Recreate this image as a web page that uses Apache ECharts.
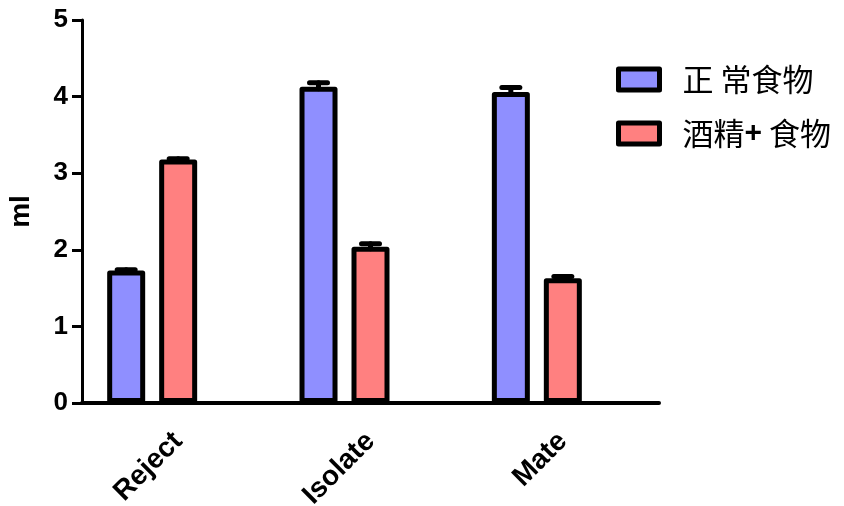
<!DOCTYPE html>
<html>
<head>
<meta charset="utf-8">
<script src="https://cdn.jsdelivr.net/npm/echarts@6/dist/echarts.min.js"></script>
<style>
  html, body { margin: 0; padding: 0; background: #fff; }
  #chart { width: 844px; height: 506px; }
</style>
</head>
<body>
<div id="chart"></div>
<script>
const categories = ['Reject', 'Isolate', 'Mate'];
const normalName = '正 常食物';
const alcoholName = '酒精+ 食物';
const normalMean = [1.73, 4.13, 4.06];
const normalErr = [0.01, 0.05, 0.06];
const alcoholMean = [3.18, 2.04, 1.63];
const alcoholErr = [0.01, 0.04, 0.02];
const yTicks = [0, 1, 2, 3, 4, 5];

const blue = '#8f8fff';
const red = '#ff8080';
const barWidth = 38;
const barGapPx = 14;
const latin = '"Liberation Sans", Arial, sans-serif';

const chart = echarts.init(document.getElementById('chart'));

// error bars drawn on top of each bar, shifted like the bar itself
function errorSeries(means, errs, offset) {
  return {
    type: 'custom',
    z: 5,
    data: means.map((m, i) => [i, m, errs[i]]),
    encode: { x: 0, y: 1 },
    renderItem: function (params, api) {
      const top = api.coord([api.value(0), api.value(1) + api.value(2)]);
      const base = api.coord([api.value(0), api.value(1)]);
      const x = top[0] + offset;
      const style = { stroke: '#000', lineWidth: 5, lineCap: 'round' };
      return {
        type: 'group',
        children: [
          { type: 'line', shape: { x1: x, y1: base[1] + 2, x2: x, y2: top[1] }, style: style },
          { type: 'line', shape: { x1: x - 9, y1: top[1], x2: x + 9, y2: top[1] }, style: style }
        ]
      };
    }
  };
}

const step = barWidth + barGapPx;

const option = {
  animation: false,
  backgroundColor: '#fff',
  grid: { left: 82, right: 185, top: 20, bottom: 103, containLabel: false, outerBoundsMode: 'none' },
  legend: {
    orient: 'vertical',
    left: 611,
    top: 59,
    data: [normalName, alcoholName],
    icon: 'rect',
    itemWidth: 41,
    itemHeight: 21,
    itemGap: 23,
    itemStyle: { borderWidth: 5, borderColor: '#000' },
    formatter: function (name) {
      return name.replace('+', '{p|+}');
    },
    textStyle: {
      fontFamily: '"Noto Sans CJK SC", sans-serif',
      fontSize: 31,
      color: '#000',
      lineHeight: 30,
      padding: [0, 0, 0, 18],
      rich: {
        p: { fontFamily: latin, fontWeight: 'bold', fontSize: 30, color: '#000' }
      }
    }
  },
  xAxis: {
    type: 'category',
    data: categories,
    axisLine: { lineStyle: { color: '#000', width: 4 } },
    axisTick: { alignWithLabel: true, length: 13, lineStyle: { color: '#000', width: 3 } },
    axisLabel: {
      rotate: 45,
      margin: 34,
      color: '#000',
      fontFamily: latin,
      fontWeight: 'bold',
      fontSize: 28
    }
  },
  yAxis: {
    type: 'value',
    min: 0,
    max: 5,
    interval: 1,
    name: 'ml',
    nameLocation: 'middle',
    nameRotate: 90,
    nameGap: 47,
    nameTextStyle: { color: '#000', fontFamily: latin, fontWeight: 'bold', fontSize: 28 },
    axisLine: { show: true, lineStyle: { color: '#000', width: 3 } },
    axisTick: { show: true, length: 10, lineStyle: { color: '#000', width: 3 } },
    splitLine: { show: false },
    axisLabel: {
      margin: 14,
      color: '#000',
      fontFamily: latin,
      fontWeight: 'bold',
      fontSize: 26,
      formatter: v => yTicks.includes(v) ? String(v) : ''
    }
  },
  series: [
    {
      name: normalName,
      type: 'bar',
      data: normalMean,
      barWidth: barWidth,
      barGap: (barGapPx / barWidth * 100).toFixed(1) + '%',
      itemStyle: { color: blue, borderColor: '#000', borderWidth: 5, borderJoin: 'round' }
    },
    {
      name: alcoholName,
      type: 'bar',
      data: alcoholMean,
      barWidth: barWidth,
      itemStyle: { color: red, borderColor: '#000', borderWidth: 5, borderJoin: 'round' }
    },
    {
      // empty slot so the red bar sits on the category tick
      name: 'pad',
      type: 'bar',
      data: ['-', '-', '-'],
      barWidth: barWidth,
      itemStyle: { color: 'transparent' }
    },
    errorSeries(normalMean, normalErr, -step),
    errorSeries(alcoholMean, alcoholErr, 0)
  ]
};

chart.setOption(option);
</script>
</body>
</html>
